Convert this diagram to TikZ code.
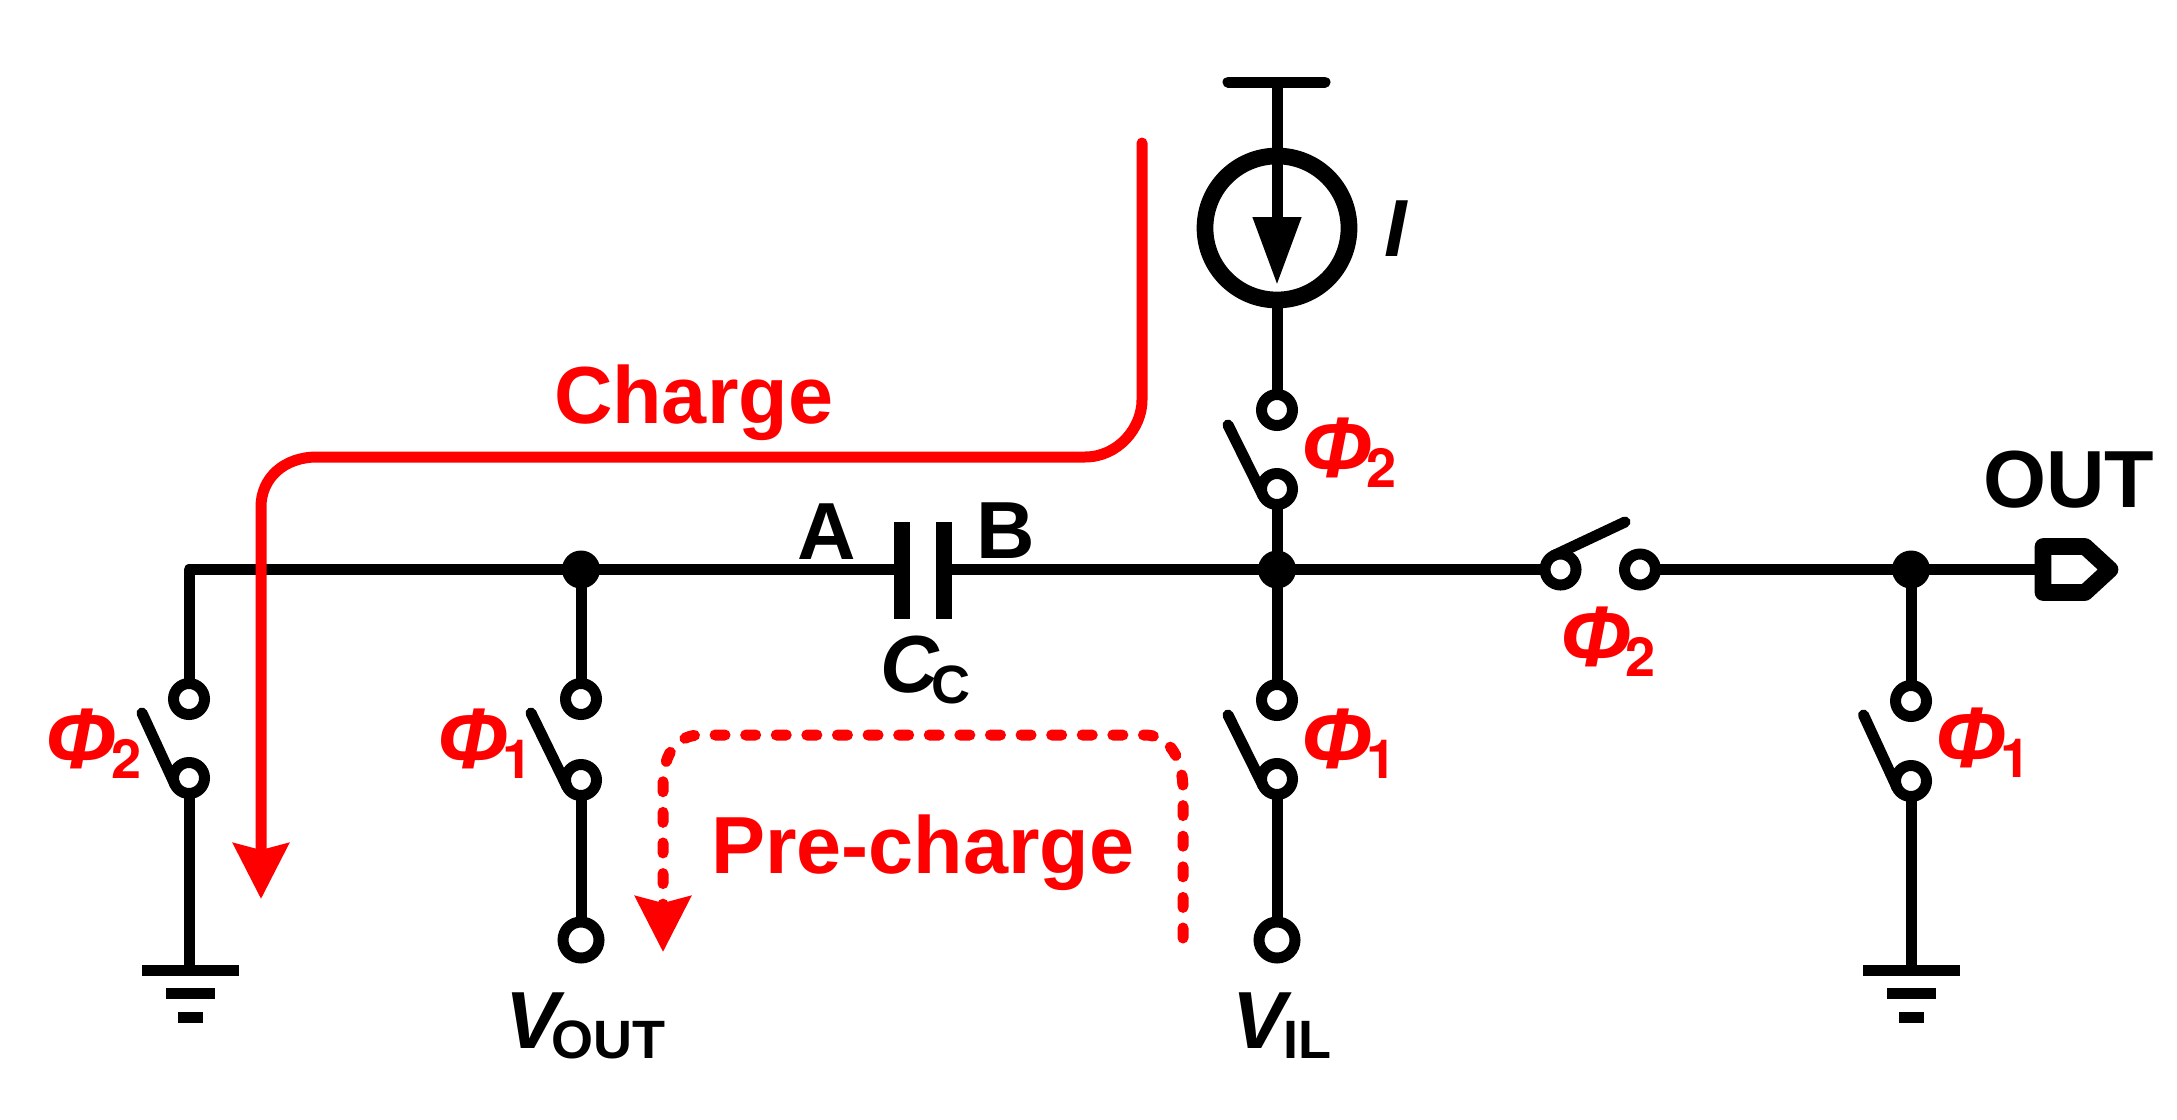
\documentclass[tikz,border=0pt]{standalone}
\usepackage{fontspec}
\setmainfont{Liberation Sans}
\newfontfamily\digitfont{TeX Gyre Heros}
\usetikzlibrary{arrows.meta}
\definecolor{pathred}{RGB}{255,0,0}
\newcommand{\mainfs}{\fontsize{40.5pt}{48pt}\selectfont}
\newcommand{\phifs}{\fontsize{43pt}{48pt}\selectfont}
\newcommand{\subfs}{\fontsize{27pt}{32pt}\selectfont}
\newcommand{\phisym}[1]{{\phifs\bfseries\itshape\symbol{"03A6}}\kern-2.5pt\raisebox{-5pt}{\subfs\digitfont\bfseries #1}}
\tikzset{
  x=0.5pt,y=-0.5pt,
  wire/.style={line width=5.5pt,black,line join=round},
  blade/.style={line width=5.5pt,black,line cap=round},
  plate/.style={line width=8pt,black},
  term/.style={circle,draw=black,fill=white,line width=5.5pt,minimum size=15.5pt,inner sep=0pt,outer sep=0pt},
  bigterm/.style={term,minimum size=18pt},
  junction/.style={circle,fill=black,minimum size=19pt,inner sep=0pt,outer sep=0pt},
  source/.style={circle,draw=black,line width=8.35pt,minimum size=72pt,inner sep=0pt,outer sep=0pt},
  lbl/.style={anchor=base west,inner sep=0pt,outer sep=0pt,text=black,font=\mainfs\bfseries},
  rlbl/.style={lbl,text=pathred},
  redpath/.style={line width=5.5pt,pathred,-{Stealth[length=27.75pt,width=27.5pt,inset=3.25pt]}},
  reddash/.style={redpath,line cap=round,dash pattern=on 5pt off 10.3pt},
}
\begin{document}
\begin{tikzpicture}
\path[use as bounding box] (0,0) rectangle (2177,1119);
% junctions and corner points
\node[junction] (j1) at (581,569.5) {};
\node[junction] (j2) at (1277,569.5) {};
\node[junction] (j3) at (1911,569.5) {};
\coordinate (corner) at (189,569.5);
\coordinate (capL) at (902,569.5);
\coordinate (capR) at (944,569.5);
\coordinate (port) at (2043,569.5);
% terminals
\node[term] (a1) at (189,699) {};
\node[term] (a2) at (189,778) {};
\node[term] (b1) at (581,699) {};
\node[term] (b2) at (581,780) {};
\node[bigterm] (b3) at (581,940) {};
\node[term] (c1) at (1277,410) {};
\node[term] (c2) at (1277,489) {};
\node[term] (d1) at (1277,700) {};
\node[term] (d2) at (1277,779) {};
\node[bigterm] (d3) at (1277,940) {};
\node[term] (e1) at (1560.5,569.5) {};
\node[term] (e2) at (1640,569.5) {};
\node[term] (f1) at (1911,701) {};
\node[term] (f2) at (1911,781) {};
\node[source] (src) at (1277,228) {};
% supply
\coordinate (vddL) at (1228,82);
\coordinate (vddR) at (1325,82);
\coordinate (vdd) at (1277,82);
\coordinate (srctip) at (1277,285);
\draw[blade] (vddL) -- (vddR);
\draw[wire,-{Triangle[length=34pt,width=23pt]}] (vdd) -- (srctip);
\draw[wire] (src) -- (c1);
\draw[wire] (c2) -- (j2.center);
% main wires
\draw[wire] (a1) -- (corner) -- (j1.center);
\draw[wire] (j1.center) -- (capL);
\draw[wire] (capR) -- (j2.center);
\draw[wire] (j2.center) -- (e1);
\draw[wire] (e2) -- (j3.center);
\draw[wire] (j3.center) -- (port);
\draw[plate] (902,522) -- (902,619);
\draw[plate] (944,522) -- (944,619);
% verticals
\coordinate (g1) at (189,970.5);
\coordinate (g2) at (1911,970.5);
\draw[wire] (a2) -- (g1);
\draw[wire] (j1.center) -- (b1);
\draw[wire] (b2) -- (b3);
\draw[wire] (j2.center) -- (d1);
\draw[wire] (d2) -- (d3);
\draw[wire] (j3.center) -- (f1);
\draw[wire] (f2) -- (g2);
% switch blades
\coordinate (ba) at (142,713);
\coordinate (bb) at (531,713);
\coordinate (bc) at (1228,425);
\coordinate (bd) at (1228,715);
\coordinate (be) at (1625,522);
\coordinate (bf) at (1863.5,715);
\draw[blade] (ba) -- (a2.205);
\draw[blade] (bb) -- (b2.205);
\draw[blade] (bc) -- (c2.205);
\draw[blade] (bd) -- (d2.205);
\draw[blade] (be) -- (e1.115);
\draw[blade] (bf) -- (f2.205);
% grounds
\foreach \gx in {190.5,1911.5}{
  \draw[line width=5.5pt] (\gx-48.5,970.5) -- (\gx+48.5,970.5);
  \draw[line width=5.5pt] (\gx-24.5,993.5) -- (\gx+24.5,993.5);
  \draw[line width=5.5pt] (\gx-12.5,1017.5) -- (\gx+12.5,1017.5);
}
% output port
\draw[line width=8.35pt,line join=round] (2043,546.5) -- (2085,546.5) -- (2110,569.5) -- (2085,592.5) -- (2043,592.5) -- cycle;
% red paths
\coordinate (chS) at (1142,143);
\coordinate (chE) at (261,899);
\draw[redpath,line cap=round] (chS) -- (1142,400) .. controls (1142,428) and (1118,457) .. (1085,457) -- (317,457) .. controls (284,457) and (261,478) .. (261,507) -- (chE);
\coordinate (prS) at (1183,938);
\coordinate (prE) at (663,952);
\draw[reddash] (prS) -- (1183,790) .. controls (1183,760) and (1170,735) .. (1145,735) -- (700,735) .. controls (680,735) and (663,750) .. (663,785) -- (prE);
% labels
\node[rlbl] (lcharge) at (554,423) {Charge};
\node[rlbl] (lpre) at (711,873) {Pre-charge};
\node[lbl] (lA) at (797,559) {A};
\node[lbl] (lB) at (976,558) {B};
\node[lbl] (lC) at (880,692) {\itshape C\kern-3.5pt\raisebox{-5.5pt}{\subfs\upshape\bfseries C}};
\node[lbl] (lI) at (1384,256) {\itshape I};
\node[lbl] (lOUT) at (1983,507) {OUT};
\node[lbl] (lVo) at (505,1048) {\itshape V\kern-4pt\raisebox{-5pt}{\subfs\upshape\bfseries OUT}};
\node[lbl] (lVi) at (1232,1048) {\itshape V\kern-1.5pt\raisebox{-5pt}{\subfs\upshape\bfseries IL}};
\node[rlbl] (p1) at (46,768) {\phisym{2}};
\node[rlbl] (p2) at (437,768) {\phisym{1}};
\node[rlbl] (p3) at (1301,477) {\phisym{2}};
\node[rlbl] (p4) at (1301,768) {\phisym{1}};
\node[rlbl] (p5) at (1560,666) {\phisym{2}};
\node[rlbl] (p6) at (1935,767) {\phisym{1}};
\end{tikzpicture}
\end{document}
